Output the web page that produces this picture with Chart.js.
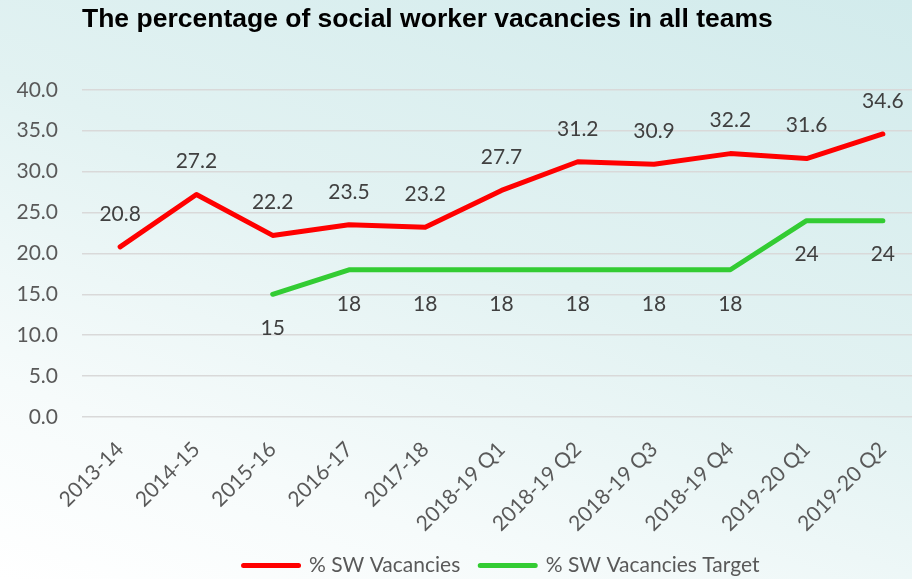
<!DOCTYPE html>
<html>
<head>
<meta charset="utf-8">
<script src="https://cdn.jsdelivr.net/npm/chart.js@4.4.0/dist/chart.umd.min.js"></script>
<style>
  html, body { margin: 0; padding: 0; }
  body {
    width: 912px;
    height: 579px;
    overflow: hidden;
    background: linear-gradient(200deg, #d2ebec 0%, #e2f2f2 45%, #f6fbfb 78%, #ffffff 100%);
  }
  #wrap { position: relative; width: 930px; height: 586px; }
</style>
</head>
<body>
<div id="wrap"><canvas id="myChart"></canvas></div>
<script>
const periods = ['2013-14', '2014-15', '2015-16', '2016-17', '2017-18', '2018-19 Q1',
  '2018-19 Q2', '2018-19 Q3', '2018-19 Q4', '2019-20 Q1', '2019-20 Q2'];
const swVacancies = [20.8, 27.2, 22.2, 23.5, 23.2, 27.7, 31.2, 30.9, 32.2, 31.6, 34.6];
const swTarget = [null, null, 15, 18, 18, 18, 18, 18, 18, 24, 24];
const yMin = 0;
const yMax = 40;
const yStep = 5;

const textGrey = '#595959';
const labelFont = "Lato, 'Open Sans', sans-serif";

// draws the value next to each point (above for red, below for green)
const pointLabels = {
  id: 'pointLabels',
  afterDatasetsDraw(chart) {
    const ctx = chart.ctx;
    chart.data.datasets.forEach((ds, i) => {
      const meta = chart.getDatasetMeta(i);
      meta.data.forEach((pt, j) => {
        const v = ds.data[j];
        if (v === null) return;
        ctx.save();
        ctx.font = '21px ' + labelFont;
        ctx.fillStyle = '#404040';
        ctx.textAlign = 'center';
        ctx.textBaseline = 'middle';
        ctx.fillText(String(v), pt.x, pt.y + ds.labelOffset);
        ctx.restore();
      });
    });
  },
};

const ctx = document.getElementById('myChart').getContext('2d');

const myChart = new Chart(ctx, {
  type: 'line',
  data: {
    labels: periods,
    datasets: [
      {
        label: '% SW Vacancies',
        data: swVacancies,
        borderColor: '#ff0000',
        backgroundColor: '#ff0000',
        borderWidth: 5,
        borderCapStyle: 'round',
        borderJoinStyle: 'round',
        labelOffset: -33,
      },
      {
        label: '% SW Vacancies Target',
        data: swTarget,
        borderColor: '#33cc33',
        backgroundColor: '#33cc33',
        borderWidth: 5,
        borderCapStyle: 'round',
        borderJoinStyle: 'round',
        labelOffset: 34,
      },
    ],
  },
  options: {
    responsive: true,
    maintainAspectRatio: false,
    animation: false,
    layout: {
      padding: { left: 0, right: 9, top: 0, bottom: 0 },
    },
    plugins: {
      title: {
        display: true,
        text: 'The percentage of social worker vacancies in all teams',
        align: 'start',
        fullSize: false,
        color: '#000000',
        font: { family: "'Liberation Sans', Arial, sans-serif", size: 26.5, weight: 'bold' },
        padding: { top: 4, bottom: 54 },
      },
      legend: {
        position: 'bottom',
        fullSize: false,
        labels: {
          color: textGrey,
          font: { family: labelFont, size: 21 },
          boxWidth: 55,
          boxHeight: 0,
          padding: 20,
        },
      },
      tooltip: { enabled: false },
    },
    scales: {
      y: {
        min: yMin,
        max: yMax,
        afterFit(scale) {
          scale.width = 82;
        },
        ticks: {
          stepSize: yStep,
          padding: 24,
          color: textGrey,
          font: { family: labelFont, size: 21 },
          callback: (v) => Number(v).toFixed(1),
        },
        grid: {
          color: '#d9d9d9',
          lineWidth: 1.5,
          drawTicks: false,
        },
        border: { display: false },
      },
      x: {
        offset: true,
        afterFit(scale) {
          scale.height = 118;
        },
        ticks: {
          minRotation: 45,
          maxRotation: 45,
          autoSkip: false,
          padding: 12,
          color: textGrey,
          font: { family: labelFont, size: 21 },
        },
        grid: { display: false },
        border: { display: false },
      },
    },
    elements: {
      point: { radius: 0 },
      line: { tension: 0 },
    },
  },
  plugins: [pointLabels],
});
</script>
</body>
</html>
